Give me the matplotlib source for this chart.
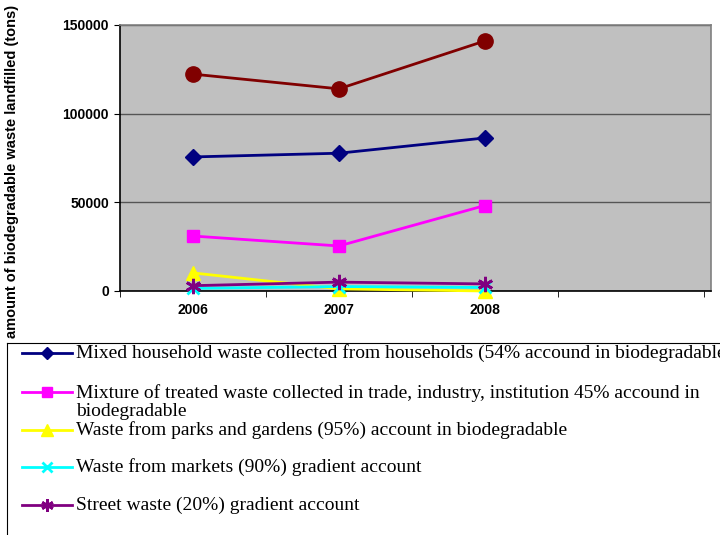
import numpy as np
import matplotlib.pyplot as plt
from matplotlib.lines import Line2D

years = ['2006', '2007', '2008']

total = [122300, 114000, 141000]
household = [75600, 77700, 86300]
trade = [31000, 25400, 48200]
parks = [10200, 1200, 0]
markets = [1500, 2500, 2000]
street = [3000, 5000, 4000]

labels = [
    'Mixed household waste collected from households (54% accound in biodegradable',
    'Mixture of treated waste collected in trade, industry, institution 45% accound in\nbiodegradable',
    'Waste from parks and gardens (95%) account in biodegradable',
    'Waste from markets (90%) gradient account',
    'Street waste (20%) gradient account',
]

fig = plt.figure(figsize=(7.2, 5.35), dpi=100)
ax = fig.add_axes([120 / 720, 1 - 291 / 535, 591 / 720, 266 / 535])
ax.set_facecolor('#c0c0c0')

x = np.arange(len(years))

styles = [
    dict(color='#800000', marker='o', markersize=11),
    dict(color='#000080', marker='D', markersize=8),
    dict(color='#ff00ff', marker='s', markersize=9),
    dict(color='#ffff00', marker='^', markersize=10),
    dict(color='#00ffff', marker='x', markersize=9, markeredgewidth=2),
    dict(color='#800080', marker=(6, 2, 0), markersize=11, markeredgewidth=2),
]
series = [total, household, trade, parks, markets, street]
for i in [3, 4, 5, 2, 1, 0]:
    ax.plot(x, series[i], linewidth=2, clip_on=False, zorder=3 + i, **styles[i])

ax.set_xlim(-0.5, 3.55)
ax.set_ylim(0, 150000)
ax.set_yticks([0, 50000, 100000, 150000])
ax.set_yticklabels(['0', '50000', '100000', '150000'], fontweight='bold', fontsize=10,
                   family='Liberation Sans')
ax.set_xticks(x)
ax.set_xticklabels(years, fontweight='bold', fontsize=10, family='Liberation Sans')
ax.set_xticks([-0.5, 0.5, 1.5, 2.5, 3.5], minor=True)
ax.tick_params(axis='x', which='major', length=0, pad=9)
ax.tick_params(axis='x', which='minor', length=4, direction='out', color='black')
ax.tick_params(axis='y', length=4, direction='out', pad=4)
ax.yaxis.grid(True, color='#555555', linewidth=1)
ax.set_axisbelow(True)
for s in ['top', 'right']:
    ax.spines[s].set_color('#808080')
    ax.spines[s].set_linewidth(1.2)
for s in ['left', 'bottom']:
    ax.spines[s].set_color('black')
    ax.spines[s].set_linewidth(1.2)

fig.text(12 / 720, 1 - 171 / 535, 'amount of biodegradable waste landfilled (tons)',
         rotation=90, ha='center', va='center', fontsize=10.5, fontweight='bold',
         family='Liberation Sans')

# legend box along the bottom
box_top = 1 - 343 / 535
fig.add_artist(Line2D([7 / 720, 7 / 720], [0, box_top], color='black', linewidth=0.8))
fig.add_artist(Line2D([7 / 720, 1], [box_top, box_top], color='black', linewidth=0.8))

rows = [353, 392, 430, 467, 505]
for k, (label, yy) in enumerate(zip(labels, rows)):
    st = dict(styles[k + 1])
    color = st.pop('color')
    st['markersize'] = st['markersize'] * 0.8
    yf = 1 - yy / 535
    fig.add_artist(Line2D([22 / 720, 72 / 720], [yf, yf], linewidth=2, color=color,
                          transform=fig.transFigure))
    fig.add_artist(Line2D([47 / 720], [yf], linewidth=0, color=color, **st,
                          transform=fig.transFigure))
    if '\n' in label:
        fig.text(76 / 720, 1 - (yy - 8) / 535, label, ha='left', va='top',
                 fontsize=14, family='Liberation Serif', linespacing=1.05)
    else:
        fig.text(76 / 720, yf, label, ha='left', va='center',
                 fontsize=14, family='Liberation Serif')

fig.savefig('out.png', dpi=100)
